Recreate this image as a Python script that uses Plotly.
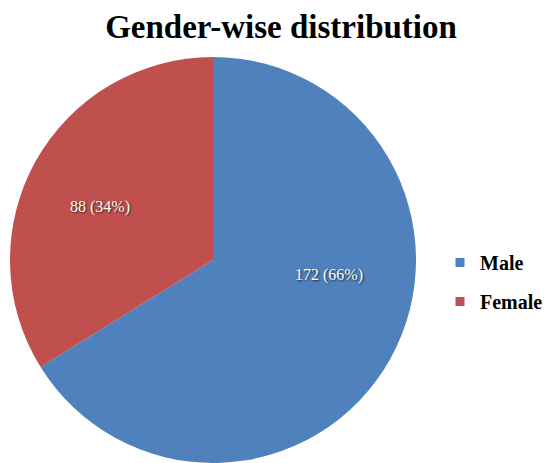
import plotly.graph_objects as go

# Gender-wise counts
genders = ["Male", "Female"]
counts = [172, 88]
colors = ["#4F81BD", "#C0504D"]

# Where each slice's value label sits (paper coordinates)
label_xy = [(329, 275), (100, 207)]

total = sum(counts)
slice_text = [f"{c} ({round(100 * c / total)}%)" for c in counts]

W, H = 547, 463
SERIF = "Liberation Serif, Times New Roman, serif"

fig = go.Figure()

fig.add_trace(go.Pie(
    labels=genders,
    values=counts,
    textinfo="none",
    sort=False,
    direction="clockwise",
    rotation=0,
    marker=dict(colors=colors, line=dict(width=0)),
    domain=dict(x=[10 / W, 416 / W], y=[0, (H - 57) / H]),
    showlegend=False,
    hoverinfo="label+value+percent",
))

# Value labels on the slices
for txt, (px, py) in zip(slice_text, label_xy):
    fig.add_annotation(
        text=txt, x=px / W, y=1 - py / H, xref="paper", yref="paper",
        showarrow=False, xanchor="center", yanchor="middle",
        font=dict(family=SERIF, size=16, color="white", shadow="1px 1px 2px #222"),
    )

# Legend entries (one group per gender to space them apart)
for g, c in zip(genders, colors):
    fig.add_trace(go.Scatter(
        x=[None], y=[None], mode="markers", name=f"<b>{g}</b>", legendgroup=g,
        marker=dict(symbol="square", size=9, color=c),
        showlegend=True,
    ))

fig.update_layout(
    width=W, height=H,
    margin=dict(l=0, r=0, t=0, b=0, autoexpand=False),
    paper_bgcolor="white",
    plot_bgcolor="white",
    title=dict(
        text="<b>Gender-wise distribution</b>",
        x=281 / W, xanchor="center",
        y=1 - 26 / H, yanchor="middle",
        font=dict(family=SERIF, size=33, color="black"),
    ),
    legend=dict(
        x=440 / W, xanchor="left",
        y=1 - 282 / H, yanchor="middle",
        font=dict(family=SERIF, size=20, color="black"),
        tracegroupgap=10,
        itemwidth=30,
        bgcolor="rgba(0,0,0,0)",
    ),
    xaxis=dict(visible=False),
    yaxis=dict(visible=False),
)

fig.write_html("out.html")
